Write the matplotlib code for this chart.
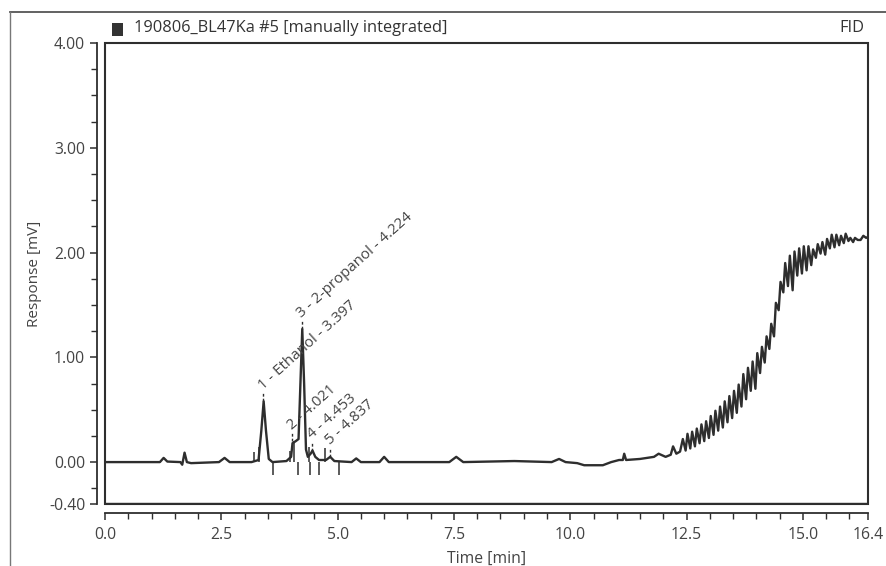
import matplotlib
matplotlib.use("Agg")
import matplotlib.pyplot as plt
from matplotlib.patches import Rectangle
from matplotlib.lines import Line2D
from matplotlib.ticker import FixedLocator, MultipleLocator

plt.rcParams['font.family'] = ['Open Sans', 'DejaVu Sans']

# trace, baseline part (time [min], response [mV])
base_t = [0.0, 0.3, 1.18, 1.26, 1.34, 1.62, 1.66, 1.71, 1.76, 1.85, 2.45, 2.57, 2.68,
          3.15, 3.3, 3.36, 3.41, 3.46, 3.52, 3.6, 3.9, 4.0, 4.03, 4.1, 4.16, 4.2, 4.24,
          4.28, 4.32, 4.36, 4.42, 4.46, 4.52, 4.6, 4.75, 4.84, 4.93, 5.3, 5.4, 5.5, 5.9,
          6.0, 6.1, 7.4, 7.55, 7.7, 8.8, 9.6, 9.76, 9.9, 10.15, 10.3, 10.7, 10.88, 11.05,
          11.13, 11.16, 11.2, 11.5, 11.8, 11.9, 12.05, 12.16, 12.21, 12.28, 12.36]
base_v = [0.0, 0.0, 0.0, 0.04, 0.005, 0.0, -0.025, 0.09, 0.0, -0.01, 0.0, 0.04, 0.0,
          0.0, 0.02, 0.3, 0.58, 0.3, 0.03, 0.0, 0.01, 0.05, 0.18, 0.2, 0.22, 0.75, 1.27,
          0.75, 0.12, 0.05, 0.08, 0.11, 0.05, 0.02, 0.02, 0.05, 0.01, 0.0, 0.035, 0.0, 0.0,
          0.05, 0.0, 0.0, 0.05, 0.0, 0.01, 0.0, 0.03, 0.0, -0.01, -0.03, -0.03, 0.0, 0.02,
          0.02, 0.08, 0.02, 0.03, 0.05, 0.08, 0.05, 0.07, 0.15, 0.08, 0.1]

# noisy rise at the end of the run
ramp_t = [12.42, 12.48, 12.52, 12.58, 12.62, 12.68, 12.72, 12.78, 12.82, 12.88,
          12.92, 12.98, 13.02, 13.08, 13.12, 13.18, 13.22, 13.28, 13.32, 13.38,
          13.42, 13.48, 13.52, 13.58, 13.62, 13.68, 13.72, 13.78, 13.82, 13.88,
          13.92, 13.98, 14.02, 14.08, 14.12, 14.18, 14.22, 14.28, 14.32, 14.38,
          14.42, 14.48, 14.52, 14.58, 14.62, 14.68, 14.72, 14.78, 14.82, 14.88,
          14.92, 14.98, 15.02, 15.08, 15.12, 15.18, 15.22, 15.28, 15.32, 15.38,
          15.42, 15.48, 15.52, 15.58, 15.62, 15.68, 15.72, 15.78, 15.82, 15.88,
          15.92, 15.98, 16.02, 16.08, 16.12, 16.18, 16.24, 16.3, 16.36, 16.4]
ramp_v = [0.22, 0.11, 0.27, 0.13, 0.29, 0.15, 0.32, 0.18, 0.36, 0.2,
          0.39, 0.23, 0.44, 0.26, 0.49, 0.3, 0.53, 0.33, 0.58, 0.38,
          0.63, 0.42, 0.68, 0.47, 0.74, 0.53, 0.84, 0.6, 0.9, 0.68,
          0.96, 0.7, 1.04, 0.85, 1.1, 0.95, 1.2, 1.08, 1.32, 1.2,
          1.52, 1.45, 1.72, 1.62, 1.9, 1.68, 1.97, 1.64, 2.01, 1.78,
          2.04, 1.8, 2.06, 1.83, 2.06, 1.88, 2.03, 1.95, 2.08, 1.99,
          2.1, 1.98, 2.13, 2.04, 2.17, 2.05, 2.17, 2.07, 2.16, 2.09,
          2.18, 2.11, 2.14, 2.1, 2.14, 2.12, 2.12, 2.16, 2.14, 2.15]

# integrated peaks
peak_labels = ["1 - Ethanol - 3.397", "2 - 4.021", "3 - 2-propanol - 4.224",
               "4 - 4.453", "5 - 4.837"]
peak_t = [3.397, 4.021, 4.224, 4.453, 4.837]
peak_h = [0.58, 0.2, 1.27, 0.11, 0.05]

# integration delimiters
mark_up_t = [3.2, 3.3, 3.97, 4.06, 4.38, 4.72]
mark_up_h = [0.1, 0.14, 0.11, 0.2, 0.14, 0.13]
mark_down_t = [3.62, 4.14, 4.40, 4.59, 5.02]

xtick_vals = [0.0, 2.5, 5.0, 7.5, 10.0, 12.5, 15.0, 16.4]
xtick_labels = ["0.0", "2.5", "5.0", "7.5", "10.0", "12.5", "15.0", "16.4"]
ytick_vals = [-0.4, 0.0, 1.0, 2.0, 3.0, 4.0]
ytick_labels = ["-0.40", "0.00", "1.00", "2.00", "3.00", "4.00"]

LINE = '#2e2e2e'
TXT = '#444444'

fig = plt.figure(figsize=(8.86, 5.66), dpi=100)
ax = fig.add_axes([105 / 886, 1 - 504 / 566, (868 - 105) / 886, (504 - 43) / 566])

ax.plot(base_t + ramp_t, base_v + ramp_v, color=LINE, lw=1.7, zorder=3)

ax.vlines(mark_up_t, 0, mark_up_h, color=LINE, lw=1.1, zorder=3)
ax.vlines(mark_down_t, -0.12, 0, color=LINE, lw=1.1, zorder=3)

for lab, t, h in zip(peak_labels, peak_t, peak_h):
    ax.vlines(t, h, h + 0.08, color=LINE, lw=1.0, linestyles=(0, (2, 1.5)), zorder=3)
    ax.annotate(lab, (t, h + 0.08), xytext=(2, 0), textcoords='offset points',
                rotation=42, rotation_mode='anchor', ha='left', va='bottom',
                fontsize=10.8, color=TXT)

ax.set_xlim(0, 16.4)
ax.set_ylim(-0.4, 4.0)

# frame box around the plot area
for s in ['top', 'right']:
    ax.spines[s].set_visible(False)
ax.add_patch(Rectangle((0, 0), 1, 1, transform=ax.transAxes, fill=False,
                       edgecolor=LINE, lw=1.5, clip_on=False, zorder=4))
ax.axhline(-0.4, color=LINE, lw=2.4, zorder=4)

ax.spines['left'].set_position(('outward', 5.8))
ax.spines['bottom'].set_position(('outward', 6.5))
for s in ['left', 'bottom']:
    ax.spines[s].set_color(LINE)
    ax.spines[s].set_linewidth(1.3)

ax.xaxis.set_major_locator(FixedLocator(xtick_vals))
ax.set_xticklabels(xtick_labels)
ax.xaxis.set_minor_locator(MultipleLocator(0.5))
ax.yaxis.set_major_locator(FixedLocator(ytick_vals))
ax.set_yticklabels(ytick_labels)
ax.yaxis.set_minor_locator(MultipleLocator(0.25))
ax.tick_params(which='both', direction='out', colors=LINE, labelcolor=TXT, labelsize=11.3)
ax.tick_params(which='major', length=5, width=1.1)
ax.tick_params(axis='x', which='major', pad=5)
ax.tick_params(which='minor', length=4, width=1.0)

ax.set_xlabel("Time [min]", fontsize=11.3, color=TXT, labelpad=6)
ax.set_ylabel("Response [mV]", fontsize=11, color=TXT, labelpad=5)

# outer window frame and header
fig.add_artist(Line2D([10 / 886, 1], [1 - 12 / 566, 1 - 12 / 566], color='#555555', lw=1.3))
fig.add_artist(Line2D([10 / 886, 10 / 886], [0, 1 - 12 / 566], color='#777777', lw=1.0))
fig.add_artist(Rectangle((112 / 886, 1 - 36 / 566), 11 / 886, 13 / 566,
                         transform=fig.transFigure, facecolor='#333333', edgecolor='none'))
fig.text(134 / 886, 1 - 28 / 566, "190806_BL47Ka #5 [manually integrated]",
         fontsize=11.8, color='#333333', va='center', ha='left')
fig.text(864 / 886, 1 - 28 / 566, "FID", fontsize=11.8, color='#333333',
         va='center', ha='right')

fig.savefig("out.png", dpi=100)
